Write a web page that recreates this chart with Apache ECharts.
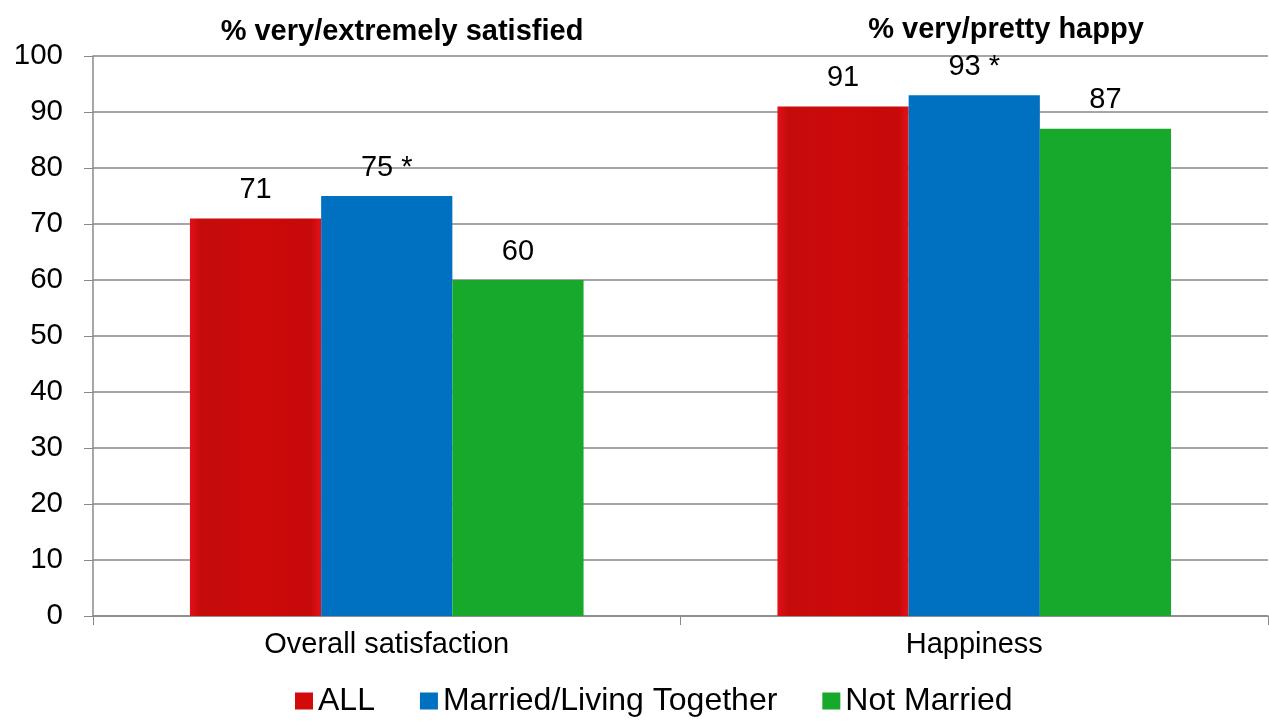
<!DOCTYPE html>
<html>
<head>
<meta charset="utf-8">
<script src="https://cdn.jsdelivr.net/npm/echarts@6/dist/echarts.min.js"></script>
<style>
  html, body { margin: 0; padding: 0; background: #fff; }
  #chart { width: 1269px; height: 721px; }
</style>
</head>
<body>
<div id="chart"></div>
<script>
// categories and groups
const categories = ['Overall satisfaction', 'Happiness']
const groupTitles = ['% very/extremely satisfied', '% very/pretty happy']
const seriesNames = ['ALL', 'Married/Living Together', 'Not Married']

// values per series (one per category)
const allValues = [71, 91]
const marriedValues = [75, 93]
const notMarriedValues = [60, 87]

// significance marks shown next to the value labels
const allMarks = ['', '']
const marriedMarks = ['*', '*']
const notMarriedMarks = ['', '']

const yTicks = { min: 0, max: 100, interval: 10 }

const FONT = '"Liberation Sans", Arial, sans-serif'
const COLORS = ['#d20a0a', '#0070c0', '#16a92b']

const redFill = new echarts.graphic.LinearGradient(0, 0, 1, 0, [
  { offset: 0, color: '#e0101a' },
  { offset: 0.08, color: '#c50b0b' },
  { offset: 0.5, color: '#cc0a0a' },
  { offset: 0.92, color: '#c70909' },
  { offset: 1, color: '#e2121c' },
])

function makeSeries(name, values, marks, color) {
  return {
    name: name,
    type: 'bar',
    data: values,
    barGap: '0%',
    barCategoryGap: '33%',
    itemStyle: { color: color },
    label: {
      show: true,
      position: 'top',
      distance: 14,
      color: '#000',
      fontSize: 29,
      fontFamily: FONT,
      formatter: p => marks[p.dataIndex] ? p.value + ' ' + marks[p.dataIndex] : String(p.value),
    },
  }
}

const chart = echarts.init(document.getElementById('chart'))
chart.setOption({
  animation: false,
  textStyle: { fontFamily: FONT },
  title: [
    {
      text: groupTitles[0], left: 397, top: 12, textAlign: 'center',
      textStyle: { fontSize: 29, fontWeight: 'bold', color: '#000', fontFamily: FONT },
    },
    {
      text: groupTitles[1], left: 1001, top: 10, textAlign: 'center',
      textStyle: { fontSize: 29, fontWeight: 'bold', color: '#000', fontFamily: FONT },
    },
  ],
  legend: {
    bottom: 4,
    left: 295,
    padding: 0,
    itemGap: 45,
    itemWidth: 18,
    itemHeight: 17,
    icon: 'rect',
    textStyle: { fontSize: 32, color: '#000', fontFamily: FONT },
    data: seriesNames.map((n, i) => ({
      name: n,
      itemStyle: { color: COLORS[i] },
    })),
  },
  grid: { left: 93, right: 1, top: 56, bottom: 105, containLabel: false },
  xAxis: {
    type: 'category',
    data: categories,
    axisLine: { lineStyle: { color: '#888', width: 1.5 } },
    axisTick: { show: true, length: 9, lineStyle: { color: '#888' } },
    axisLabel: { fontSize: 29, color: '#000', margin: 14, fontFamily: FONT },
  },
  yAxis: {
    type: 'value',
    min: yTicks.min,
    max: yTicks.max,
    interval: yTicks.interval,
    axisLine: { show: true, lineStyle: { color: '#888', width: 1.5 } },
    axisTick: { show: true, length: 9, lineStyle: { color: '#888' } },
    axisLabel: { fontSize: 29.5, color: '#000', margin: 30, fontFamily: FONT },
    splitLine: { lineStyle: { color: '#888', width: 1.5 } },
  },
  series: [
    makeSeries(seriesNames[0], allValues, allMarks, redFill),
    makeSeries(seriesNames[1], marriedValues, marriedMarks, COLORS[1]),
    makeSeries(seriesNames[2], notMarriedValues, notMarriedMarks, COLORS[2]),
  ],
})
</script>
</body>
</html>
